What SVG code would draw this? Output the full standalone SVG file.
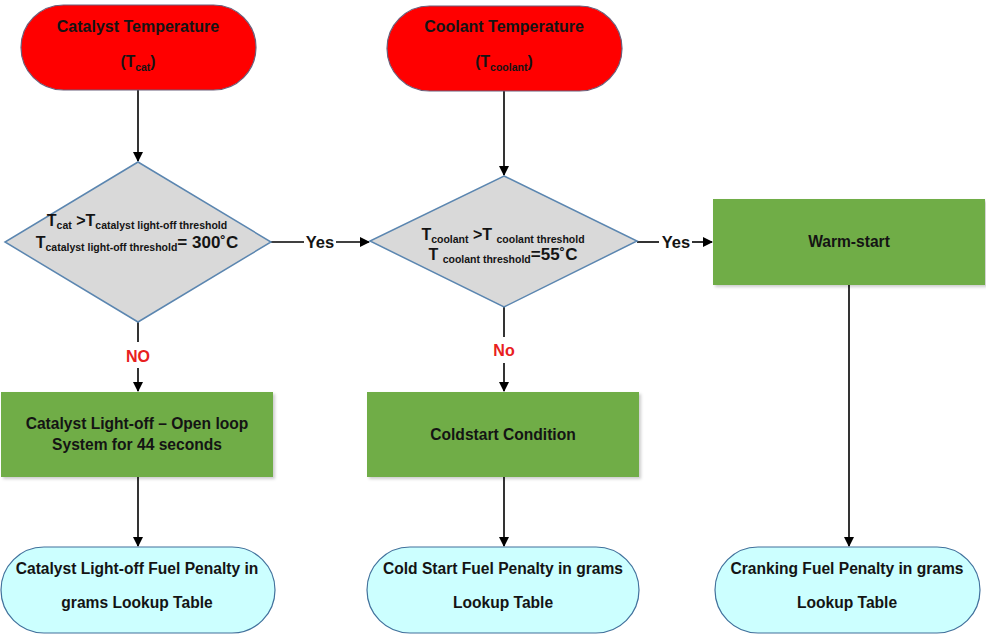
<svg xmlns="http://www.w3.org/2000/svg" width="986" height="635" viewBox="0 0 986 635">
<defs>
<marker id="ah" markerWidth="10" markerHeight="10" refX="9" refY="5" orient="auto" markerUnits="userSpaceOnUse"><path d="M0,0 L10,5 L0,10 Z" fill="#000"/></marker>
<filter id="sh" x="-5%" y="-5%" width="115%" height="120%"><feDropShadow dx="2" dy="2" stdDeviation="1.5" flood-color="#000" flood-opacity="0.2"/></filter>
</defs>
<style>
text{font-family:"Liberation Sans",Arial,sans-serif;font-weight:bold;fill:#141414;text-anchor:middle}
.t{font-size:15.6px}
.red{fill:#FF0000;stroke:#6b5f7a;stroke-width:1.2}
.dia{fill:#D9D9D9;stroke:#5B86B0;stroke-width:1.5}
.grn{fill:#70AD47}
.cy{fill:#CCFFFF;stroke:#41719C;stroke-width:1.2}
.ln{stroke:#000;stroke-width:1.6;fill:none}
.lbl{font-size:16.5px}
.no{fill:#E82020;font-size:16px}
.sub{font-size:10.5px}
</style>
<rect width="986" height="635" fill="#fff"/>
<g id="connectors">
<line class="ln" x1="138" y1="90" x2="138" y2="161" marker-end="url(#ah)"/>
<line class="ln" x1="138" y1="322" x2="138" y2="342"/>
<line class="ln" x1="138" y1="368" x2="138" y2="391" marker-end="url(#ah)"/>
<line class="ln" x1="138" y1="477" x2="138" y2="546" marker-end="url(#ah)"/>
<line class="ln" x1="271" y1="242" x2="304" y2="242"/>
<line class="ln" x1="336" y1="242" x2="369" y2="242" marker-end="url(#ah)"/>
<line class="ln" x1="504" y1="91" x2="504" y2="175" marker-end="url(#ah)"/>
<line class="ln" x1="504" y1="307" x2="504" y2="337"/>
<line class="ln" x1="504" y1="363" x2="504" y2="391" marker-end="url(#ah)"/>
<line class="ln" x1="504" y1="477" x2="504" y2="546" marker-end="url(#ah)"/>
<line class="ln" x1="637" y1="242" x2="659" y2="242"/>
<line class="ln" x1="692" y1="242" x2="712" y2="242" marker-end="url(#ah)"/>
<line class="ln" x1="849" y1="285" x2="849" y2="546" marker-end="url(#ah)"/>
<text class="lbl" x="320" y="248">Yes</text>
<text class="lbl" x="676" y="248">Yes</text>
<text class="no" x="138" y="362">NO</text>
<text class="no" x="504" y="356">No</text>
</g>
<g id="catalyst-temp">
<rect class="red" x="21" y="5" width="235" height="85" rx="42.5"/>
<text class="t" x="138" y="32" style="font-size:16px">Catalyst Temperature</text>
<text class="t" x="138" y="67">(T<tspan class="sub" dy="4">cat</tspan><tspan dy="-4">)</tspan></text>
</g>
<g id="coolant-temp">
<rect class="red" x="387" y="6" width="235" height="85" rx="42.5"/>
<text class="t" x="504" y="32" style="font-size:16px">Coolant Temperature</text>
<text class="t" x="504" y="67">(T<tspan class="sub" dy="4">coolant</tspan><tspan dy="-4">)</tspan></text>
</g>
<g id="catalyst-decision">
<polygon class="dia" points="138,162 271,242 138,322 5,242"/>
<text x="137" y="226" style="font-size:16px">T<tspan class="sub" dy="3">cat</tspan><tspan dy="-3"> &gt;T</tspan><tspan class="sub" dy="3">catalyst light-off threshold</tspan></text>
<text x="137" y="248" style="font-size:16px">T<tspan class="sub" dy="3">catalyst light-off threshold</tspan><tspan dy="-3" style="font-size:17px">= 300˚C</tspan></text>
</g>
<g id="coolant-decision">
<polygon class="dia" points="504,176 637,241 504,307 370,241"/>
<text x="503" y="240" style="font-size:16px">T<tspan class="sub" dy="3">coolant</tspan><tspan dy="-3"> &gt;T </tspan><tspan class="sub" dy="3">coolant threshold</tspan></text>
<text x="503" y="260" style="font-size:16px">T <tspan class="sub" dy="3">coolant threshold</tspan><tspan dy="-3" style="font-size:17px">=55˚C</tspan></text>
</g>
<g id="warm-start">
<rect class="grn" x="713" y="199" width="272" height="86" filter="url(#sh)"/>
<text class="t" x="849" y="247">Warm-start</text>
</g>
<g id="catalyst-lightoff">
<rect class="grn" x="1" y="392" width="272" height="85" filter="url(#sh)"/>
<text class="t" x="137" y="429">Catalyst Light-off – Open loop</text>
<text class="t" x="137" y="450">System for 44 seconds</text>
</g>
<g id="coldstart">
<rect class="grn" x="367" y="392" width="272" height="85" filter="url(#sh)"/>
<text class="t" x="503" y="440">Coldstart Condition</text>
</g>
<g id="catalyst-penalty">
<rect class="cy" x="1" y="547" width="274" height="86" rx="43"/>
<text class="t" x="137" y="574">Catalyst Light-off Fuel Penalty in</text>
<text class="t" x="137" y="608">grams Lookup Table</text>
</g>
<g id="cold-penalty">
<rect class="cy" x="367" y="547" width="272" height="86" rx="43"/>
<text class="t" x="503" y="574">Cold Start Fuel Penalty in grams</text>
<text class="t" x="503" y="608">Lookup Table</text>
</g>
<g id="cranking-penalty">
<rect class="cy" x="715" y="547" width="265" height="86" rx="43"/>
<text class="t" x="847" y="574">Cranking Fuel Penalty in grams</text>
<text class="t" x="847" y="608">Lookup Table</text>
</g>
</svg>
